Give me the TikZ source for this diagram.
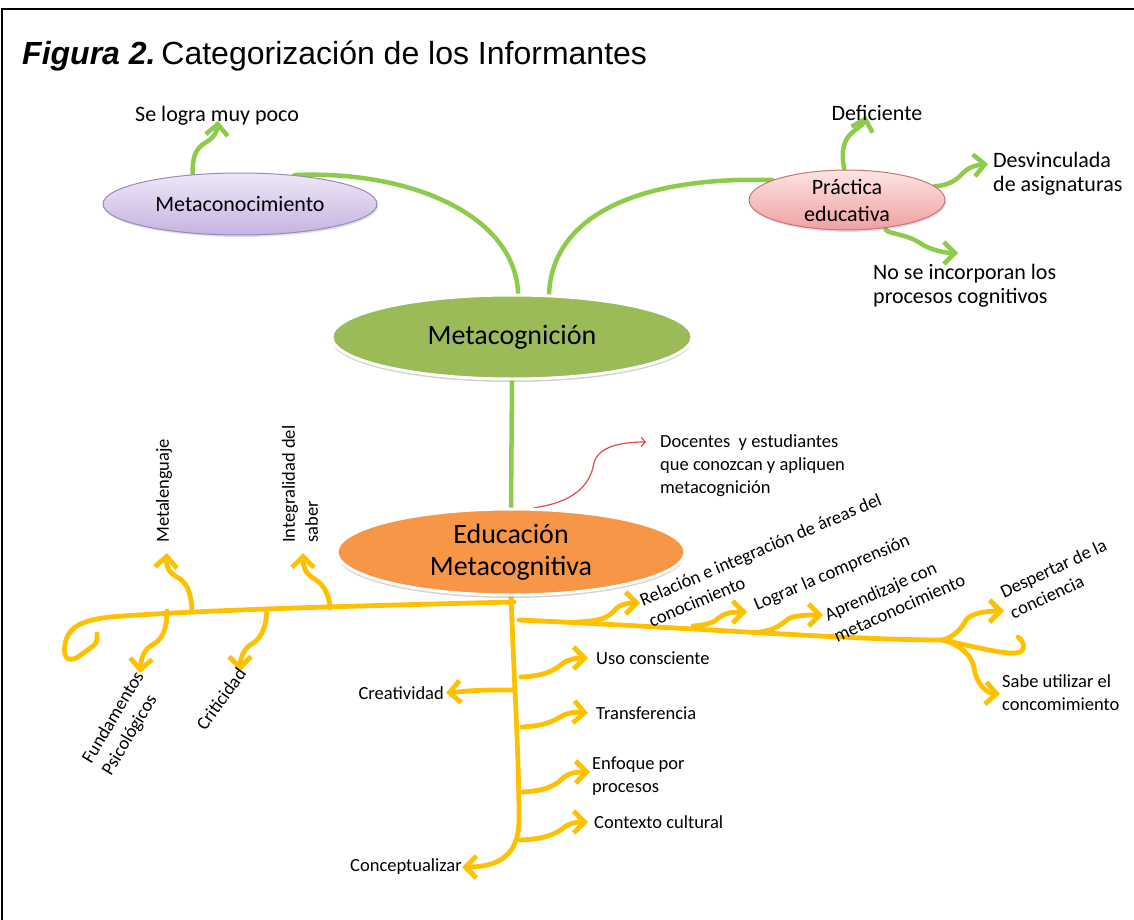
\documentclass[tikz,border=0pt]{standalone}
\usepackage{fontspec}
\setmainfont{Carlito}
\newfontfamily\arialfont{Liberation Sans}
\usetikzlibrary{arrows.meta,shapes.geometric,shadows}
\pgfdeclarelayer{background}
\pgfsetlayers{background,main}
\definecolor{yel}{HTML}{FFC000}
\definecolor{grn}{HTML}{8DCB4A}
\definecolor{olivefill}{HTML}{9BBB59}
\definecolor{orngfill}{HTML}{F79646}
\definecolor{redl}{HTML}{E8474A}
\definecolor{lavtop}{HTML}{EEE8F8}
\definecolor{lavbot}{HTML}{C6B2E0}
\definecolor{lavdraw}{HTML}{9A88BC}
\definecolor{pnktop}{HTML}{FDE4E4}
\definecolor{pnkbot}{HTML}{F0A0A0}
\definecolor{pnkdraw}{HTML}{C97472}
\tikzset{
  lbl/.style={font=\fontsize{18.5}{23}\selectfont, inner sep=0pt},
  lblb/.style={font=\fontsize{22}{24.5}\selectfont, inner sep=0pt},
  gline/.style={draw=grn, line width=4.5pt, line cap=round},
  garr/.style={gline, -{Straight Barb[length=11pt,width=22pt]}},
  yline/.style={draw=yel, line width=4.8pt, line cap=round, line join=round},
  yarr/.style={yline, -{Straight Barb[length=11pt,width=22pt]}},
  bigell/.style={ellipse, draw=white, line width=3pt, inner sep=0pt,
    font=\fontsize{28}{32}\selectfont, align=center,
    drop shadow={shadow xshift=0pt, shadow yshift=-3pt, opacity=0.35}},
  smell/.style={ellipse, line width=1pt, inner sep=0pt, align=center,
    font=\fontsize{22}{27}\selectfont,
    drop shadow={shadow xshift=1pt, shadow yshift=-2pt, opacity=0.25}},
}
\begin{document}
\begin{tikzpicture}[x=1pt,y=-1pt]
\useasboundingbox (0,0) rectangle (1134,920);
\draw[line width=1.5pt] (2,1000) -- (2,9) -- (1200,9);

% title
\node[anchor=base west, inner sep=0pt] (title) at (22,65)
  {\arialfont\fontsize{32}{38}\selectfont\textbf{\textit{Figura 2.}}\kern-3pt\ Categorización de los Informantes};

% ellipses
\node[smell, top color=lavtop, bottom color=lavbot, draw=lavdraw,
  minimum width=274pt, minimum height=62pt] (metacon) at (240,204) {Metaconocimiento};
\node[smell, top color=pnktop, bottom color=pnkbot, draw=pnkdraw,
  minimum width=196pt, minimum height=56pt] (prac) at (847,200) {Práctica\\educativa};
\node[bigell, fill=olivefill, minimum width=360pt, minimum height=84pt] (metacog) at (512,337) {Metacognición};
\node[bigell, fill=orngfill, minimum width=348pt, minimum height=86pt] (educ) at (511,552) {Educación\\Metacognitiva};

% labels (top)
\node[lblb, anchor=west] (selogra) at (135,116) {Se logra muy poco};
\node[lblb] (defic) at (877,113) {Deficiente};
\node[lblb, anchor=west, align=left] (desv) at (993,174) {Desvinculada\\de asignaturas};
\node[lblb, anchor=west, align=left] (noinc) at (873,286) {No se incorporan los\\procesos cognitivos};
\node[lbl, anchor=west, align=left] (doc) at (660,466) {Docentes\ \ y estudiantes\\que conozcan y apliquen\\metacognición};

% labels (bottom)
\node[lbl, anchor=west] (uso) at (596,658) {Uso consciente};
\node[lbl, anchor=west] (transf) at (596,713) {Transferencia};
\node[lbl, anchor=west, align=left] (enfoq) at (592,776) {Enfoque por\\procesos};
\node[lbl, anchor=west] (context) at (594,822) {Contexto cultural};
\node[lbl, anchor=east] (creat) at (444,693) {Creatividad};
\node[lbl, anchor=east] (concep) at (462,867) {Conceptualizar};
\node[lbl, anchor=west, align=left] (sabe) at (1002,693) {Sabe utilizar el\\concomimiento};
\node[lbl, anchor=west, align=left, rotate=23] (relac) at (645,611) {Relación e integración de áreas del\\conocimiento};
\node[lbl, anchor=west, rotate=23] (lograr) at (755,606) {Lograr la comprensión};
\node[lbl, anchor=west, align=left, rotate=24] (aprend) at (830,626) {Aprendizaje con\\metaconocimiento};
\node[lbl, anchor=west, align=left, rotate=25] (desp) at (1006,603) {Despertar de la\\conciencia};
\node[lbl, anchor=west, rotate=90] (metaleng) at (164,543) {Metalenguaje};
\node[lbl, anchor=west, align=left, rotate=90] (integ) at (300,543) {Integralidad del\\saber};
\node[lbl, anchor=west, align=left, rotate=59] (fund) at (97,768) {Fundamentos\\Psicológicos};
\node[lbl, anchor=west, rotate=54] (crit) at (200,728) {Criticidad};

% named coordinates
\coordinate (selt) at (218,121);
\coordinate (deft) at (866,116);
\coordinate (desvt) at (988,164);
\coordinate (noinct) at (958,253);
\coordinate (doct) at (646,442);
\coordinate (jl) at (514,602);
\coordinate (jr) at (519,620);
\coordinate (fork) at (943,640);
\coordinate (b1) at (192,611);
\coordinate (b2) at (330,608);
\coordinate (b3) at (167,611);
\coordinate (b4) at (267,609);
\coordinate (mlt) at (167,553);
\coordinate (igt) at (303,553);
\coordinate (fdt) at (140,673);
\coordinate (crt) at (240,671);
\coordinate (u0) at (521,677);
\coordinate (t0) at (522,727);
\coordinate (e0) at (522,792);
\coordinate (c0) at (520,840);
\coordinate (cr0) at (513,690);
\coordinate (r1) at (577,622);
\coordinate (r2) at (693,626);
\coordinate (r3) at (760,632);
\coordinate (rt1) at (640,603);
\coordinate (rt2) at (747,612);
\coordinate (rt3) at (823,615);
\coordinate (dst) at (1004,611);
\coordinate (sbt) at (1000,694);

\begin{pgfonlayer}{background}
% green connectors
\draw[gline] (metacon.28) .. controls (410,170) and (515,215) .. (metacog.82);
\draw[gline] (metacog.49) .. controls (552,215) and (640,176) .. (prac.165);
\draw[gline] (metacog.south) -- (educ.north);
\draw[garr] (metacon.148) .. controls (192,150) and (200,146) .. (208,141)
  .. controls (214,137) and (217,132) .. (selt);
\draw[garr] (prac.95) .. controls (840,148) and (845,138) .. (854,131)
  .. controls (861,126) and (864,123) .. (deft);
\draw[garr] (prac.9) .. controls (945,186) and (955,182) .. (963,173)
  .. controls (970,166) and (978,165) .. (desvt);
\draw[garr] (prac.-36) .. controls (884,234) and (905,233) .. (920,243)
  .. controls (930,250) and (945,253) .. (noinct);
% red connector
\draw[redl, line width=1.2pt, -{Straight Barb[length=4pt,width=9pt]}]
  (educ.63) .. controls (575,502) and (590,485) .. (594,463)
  .. controls (598,447) and (620,442) .. (doct);

% yellow trunk and branches
\draw[yarr] (educ.south) .. controls (515,700) and (519,760) .. (519,820)
  .. controls (519,858) and (495,867) .. (concep.east);
\draw[yline] (jl) .. controls (350,606) and (200,610) .. (110,617)
  .. controls (84,620) and (70,626) .. (66,640)
  .. controls (62,655) and (66,664) .. (78,657) -- (93,646)
  .. controls (97,642) .. (97,634);
\draw[yarr] (b1) .. controls (191,590) and (186,582) .. (177,577)
  .. controls (168,572) and (166,566) .. (mlt);
\draw[yarr] (b2) .. controls (329,592) and (322,583) .. (313,578)
  .. controls (305,573) and (303,566) .. (igt);
\draw[yarr] (b3) .. controls (167,630) and (162,640) .. (152,645)
  .. controls (143,650) and (141,660) .. (fdt);
\draw[yarr] (b4) .. controls (266,630) and (260,640) .. (250,645)
  .. controls (243,650) and (240,660) .. (crt);
\draw[yarr, shorten >=2pt] (cr0) .. controls (480,690) .. (creat.east);
\draw[yarr] (u0) .. controls (545,676) and (555,670) .. (562,664)
  .. controls (568,659) and (576,658) .. (uso.west -| 588,0);
\draw[yarr] (t0) .. controls (546,726) and (555,720) .. (562,716)
  .. controls (569,712) and (576,712) .. (transf.west -| 588,0);
\draw[yarr] (e0) .. controls (546,791) and (556,785) .. (563,778)
  .. controls (570,772) and (578,772) .. (590,772);
\draw[yarr] (c0) .. controls (545,839) and (555,834) .. (562,829)
  .. controls (569,823) and (576,822) .. (context.west -| 588,0);
% right main branch
\draw[yline] (jr) .. controls (700,628) and (850,640) .. (fork);
\draw[yline] (fork) .. controls (980,648) and (1010,656) .. (1020,652)
  .. controls (1026,648) and (1024,642) .. (1018,637);
\draw[yarr] (fork) .. controls (955,636) and (962,628) .. (966,620)
  .. controls (972,612) and (990,611) .. (dst);
\draw[yarr] (fork) .. controls (960,645) and (972,655) .. (974,668)
  .. controls (976,682) and (985,693) .. (sbt);
\draw[yarr] (r1) .. controls (600,621) and (608,618) .. (615,610)
  .. controls (620,604) and (628,603) .. (rt1);
\draw[yarr] (r2) .. controls (708,625) and (715,622) .. (720,617)
  .. controls (726,612) and (735,612) .. (rt2);
\draw[yarr] (r3) .. controls (775,630) and (782,624) .. (788,619)
  .. controls (795,615) and (808,615) .. (rt3);
\end{pgfonlayer}
\end{tikzpicture}
\end{document}
